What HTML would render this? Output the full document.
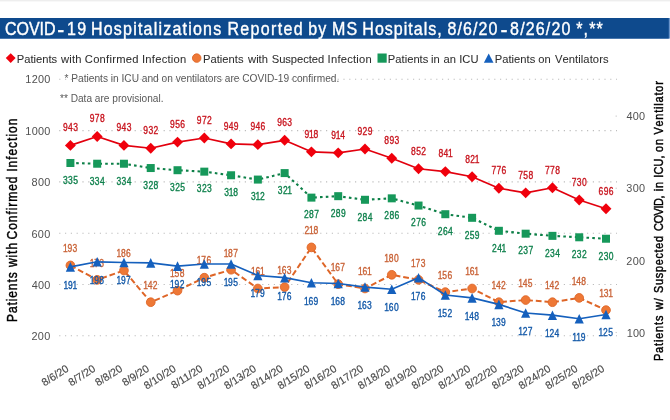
<!DOCTYPE html>
<html lang="en"><head><meta charset="utf-8">
<title>COVID-19 Hospitalizations Reported by MS Hospitals</title>
<style>
html,body{margin:0;padding:0;background:#fff;}
body{width:670px;height:420px;overflow:hidden;font-family:"Liberation Sans", sans-serif;}
svg{display:block;}
text{font-family:"Liberation Sans", sans-serif;white-space:pre;}
.ttl{fill:#fff;stroke:#fff;stroke-width:0.4px;}
.ax{fill:#505050;}
.xl{font-size:10.7px;fill:#484848;stroke:#484848;stroke-width:0.15px;text-anchor:end;}
.lg{fill:#2e2e2e;stroke:#2e2e2e;stroke-width:0.06px;}
.nt{fill:#585858;}
.dl{font-size:10.5px;stroke-width:0.35px;}
.at{fill:#000;stroke:#000;stroke-width:0.42px;}
.grid line{stroke:#bdbdbd;stroke-width:1.1;stroke-dasharray:1.2 4.6;}
</style></head><body>
<svg width="670" height="420" viewBox="0 0 670 420">
<rect x="0" y="0" width="670" height="420" fill="#fff"/>
<rect x="0" y="0" width="670" height="1" fill="#eeeeee"/>
<rect x="0" y="1" width="670" height="1" fill="#f8f8f8"/>
<rect x="0" y="18" width="670" height="20.6" fill="#6a94ca"/>
<rect x="0" y="18" width="668.8" height="20.6" fill="#0e4a8d"/>
<text class="ttl" transform="translate(0 35) scale(0.875 1)" font-size="18.3"><tspan x="5.6 18.83 33.07 45.29 50.39">COVID</tspan><tspan x="65.55" font-size="24" dy="1.5">-</tspan><tspan x="76.68 88.17" dy="-1.5">19</tspan> <tspan x="103.94 118.54 130.09 140.62 152.18 157.63 164.09 175.65 181.09 186.54 197.07 208.63 215.09 220.54 232.09 243.65">Hospitalizations</tspan> <tspan x="259.94 274.67 286.36 298.06 309.75 317.36 323.96 335.65">Reported</tspan> <tspan x="352.37 363.85">by</tspan> <tspan x="379.35 395.9">MS</tspan> <tspan x="414.11 428.48 439.8 450.1 461.43 466.64 472.87 484.2 489.41 499.71">Hospitals,</tspan> <tspan x="511.54 522.95 529.26 540.67 546.99 558.39">8/6/20</tspan><tspan x="571.89" font-size="24" dy="1.5">-</tspan><tspan x="582.97 594.46 600.85 612.34 623.83 630.22 641.71" dy="-1.5">8/26/20</tspan> <tspan x="658.51 666.94 673.34 681.77">*,**</tspan></text>
<path d="M10.7 53.2L15.6 58.1L10.7 63L5.8 58.1Z" fill="#f0000c"/>
<text class="lg" transform="translate(0 62.6) scale(0.95 1)" font-size="11.8"><tspan x="17.55 25.42 31.98 35.25 37.87 44.43 50.98 54.26">Patients</tspan> <tspan x="64.1 72.86 75.72 79.24">with</tspan> <tspan x="89.24 98.03 104.86 111.69 115.24 118.13 122.33 132.43 139.26">Confirmed</tspan> <tspan x="149.5 153.02 159.82 163.34 170.14 176.28 179.8 182.67 189.47">Infection</tspan></text>
<circle cx="196.7" cy="58.1" r="4.25" fill="#ee7836" stroke="#df6628" stroke-width="0.9"/>
<text class="lg" transform="translate(0 62.6) scale(0.95 1)" font-size="11.8"><tspan x="213.71 221.58 228.15 231.43 234.06 240.62 247.19 250.47">Patients</tspan> <tspan x="261.08 269.61 272.23 275.52">with</tspan> <tspan x="286.05 293.84 300.33 306.15 312.64 319.12 324.94 328.14 334.63">Suspected</tspan> <tspan x="344.87 348.37 355.16 358.67 365.46 371.59 375.09 377.94 384.73">Infection</tspan></text>
<rect x="377.5" y="53.5" width="9.2" height="9.2" fill="#16985a"/>
<text class="lg" transform="translate(0 62.6) scale(0.95 1)" font-size="11.8"><tspan x="408.24 416.11 422.68 425.96 428.58 435.15 441.71 445">Patients</tspan> <tspan x="453.74 456.36">in</tspan> <tspan x="466.95 473.52">an</tspan> <tspan x="483.34 486.62 495.15">ICU</tspan></text>
<path d="M488.7 53.5L493.5 62.7L483.9 62.7Z" fill="#1560bd"/>
<text class="lg" transform="translate(0 62.6) scale(0.95 1)" font-size="11.8"><tspan x="520.76 528.65 535.23 538.53 541.17 547.75 554.33 557.63">Patients</tspan> <tspan x="566.55 573.18">on</tspan> <tspan x="584.11 592.05 598.68 605.32 608.67 611.36 614.06 620.69 624.04 630.68 634.68">Ventilators</tspan></text>
<g class="grid">
<line x1="59.2" y1="79.3" x2="617" y2="79.3"/>
<line x1="59.2" y1="130.6" x2="617" y2="130.6"/>
<line x1="59.2" y1="181.9" x2="617" y2="181.9"/>
<line x1="59.2" y1="233.2" x2="617" y2="233.2"/>
<line x1="59.2" y1="284.5" x2="617" y2="284.5"/>
<line x1="59.2" y1="335.8" x2="617" y2="335.8"/>
</g>
<rect x="615.6" y="115.56" width="1.2" height="1.1" fill="#c6c6c6"/>
<rect x="615.6" y="187.69" width="1.2" height="1.1" fill="#c6c6c6"/>
<rect x="615.6" y="259.82" width="1.2" height="1.1" fill="#c6c6c6"/>
<rect x="615.6" y="331.95" width="1.2" height="1.1" fill="#c6c6c6"/>
<text class="nt" x="64.5" y="82.2" font-size="10" textLength="274.8" lengthAdjust="spacingAndGlyphs">* Patients in ICU and on ventilators are COVID-19 confirmed.</text>
<text class="nt" x="60" y="101.5" font-size="10" textLength="103.5" lengthAdjust="spacingAndGlyphs">** Data are provisional.</text>
<text class="ax" transform="translate(0 82.9) scale(0.95 1)" font-size="11.5"><tspan x="26.65 33.31 39.97 46.63">1200</tspan></text>
<text class="ax" transform="translate(0 135) scale(0.95 1)" font-size="11.5"><tspan x="26.65 33.31 39.97 46.63">1000</tspan></text>
<text class="ax" transform="translate(0 186.3) scale(0.95 1)" font-size="11.5"><tspan x="33.22 39.92 46.63">800</tspan></text>
<text class="ax" transform="translate(0 237.6) scale(0.95 1)" font-size="11.5"><tspan x="33.04 39.83 46.63">600</tspan></text>
<text class="ax" transform="translate(0 288.9) scale(0.95 1)" font-size="11.5"><tspan x="33.4 40.01 46.63">400</tspan></text>
<text class="ax" transform="translate(0 340.2) scale(0.95 1)" font-size="11.5"><tspan x="33.04 39.83 46.63">200</tspan></text>
<text class="ax" transform="translate(0 120.31) scale(0.95 1)" font-size="11.5"><tspan x="659.5 666.12 672.73">400</tspan></text>
<text class="ax" transform="translate(0 192.44) scale(0.95 1)" font-size="11.5"><tspan x="659.32 666.03 672.73">300</tspan></text>
<text class="ax" transform="translate(0 264.57) scale(0.95 1)" font-size="11.5"><tspan x="659.15 665.94 672.73">200</tspan></text>
<text class="ax" transform="translate(0 336.7) scale(0.95 1)" font-size="11.5"><tspan x="659.7 666.22 672.73">100</tspan></text>
<text class="at" transform="translate(17.35 321) rotate(-90) scale(0.86 1)" font-size="14"><tspan x="-1.09 9.26 18.06 22.97 27.09 35.89 44.7 49.6">Patients</tspan> <tspan x="62.66 73.85 78.03 83">with</tspan> <tspan x="94.81 106 114.86 123.72 128.68 132.87 138.61 151.35 160.21">Confirmed</tspan> <tspan x="173.44 178.45 187.36 192.37 201.27 209.39 214.4 218.63 227.53">Infection</tspan></text>
<text class="at" transform="translate(662.9 360.2) rotate(-90) scale(0.9 1)" font-size="12.1"><tspan x="-0.95 8.08 15.77 20.09 23.74 31.43 39.12 43.44">Patients</tspan> <tspan x="55.79 65.44">w/</tspan> <tspan x="74.73 83.58 91.09 97.91 105.42 112.92 119.75 123.89 131.39">Suspected</tspan> <tspan x="143.66 151.95 160.92 168.55 171.47 179.76">COVID,</tspan> <tspan x="187.85 191.46">in</tspan> <tspan x="202.72 206.26 215.18 224.1">ICU,</tspan> <tspan x="231.35 239">on</tspan> <tspan x="250.67 259.66 267.31 274.95 279.24 282.84 286.45 294.1 298.38 306.03">Ventilator</tspan></text>
<text class="xl" transform="translate(69.6 370.5) rotate(-32.5)">8/6/20</text>
<text class="xl" transform="translate(96.38 370.5) rotate(-32.5)">8/7/20</text>
<text class="xl" transform="translate(123.16 370.5) rotate(-32.5)">8/8/20</text>
<text class="xl" transform="translate(149.94 370.5) rotate(-32.5)">8/9/20</text>
<text class="xl" transform="translate(176.72 370.5) rotate(-32.5)">8/10/20</text>
<text class="xl" transform="translate(203.5 370.5) rotate(-32.5)">8/11/20</text>
<text class="xl" transform="translate(230.28 370.5) rotate(-32.5)">8/12/20</text>
<text class="xl" transform="translate(257.06 370.5) rotate(-32.5)">8/13/20</text>
<text class="xl" transform="translate(283.84 370.5) rotate(-32.5)">8/14/20</text>
<text class="xl" transform="translate(310.62 370.5) rotate(-32.5)">8/15/20</text>
<text class="xl" transform="translate(337.4 370.5) rotate(-32.5)">8/16/20</text>
<text class="xl" transform="translate(364.18 370.5) rotate(-32.5)">8/17/20</text>
<text class="xl" transform="translate(390.96 370.5) rotate(-32.5)">8/18/20</text>
<text class="xl" transform="translate(417.74 370.5) rotate(-32.5)">8/19/20</text>
<text class="xl" transform="translate(444.52 370.5) rotate(-32.5)">8/20/20</text>
<text class="xl" transform="translate(471.3 370.5) rotate(-32.5)">8/21/20</text>
<text class="xl" transform="translate(498.08 370.5) rotate(-32.5)">8/22/20</text>
<text class="xl" transform="translate(524.86 370.5) rotate(-32.5)">8/23/20</text>
<text class="xl" transform="translate(551.64 370.5) rotate(-32.5)">8/24/20</text>
<text class="xl" transform="translate(578.42 370.5) rotate(-32.5)">8/25/20</text>
<text class="xl" transform="translate(605.2 370.5) rotate(-32.5)">8/26/20</text>
<polyline points="70.4,145.42 97.18,136.44 123.96,145.42 150.74,148.24 177.52,142.09 204.3,137.98 231.08,143.88 257.86,144.65 284.64,140.29 311.42,151.83 338.2,152.86 364.98,149.01 391.76,158.25 418.54,168.76 445.32,171.58 472.1,176.71 498.88,188.26 525.66,192.87 552.44,187.74 579.22,200.06 606,208.78" fill="none" stroke="#e2000e" stroke-width="1.7" stroke-linejoin="round" stroke-linecap="butt"/>
<path d="M70.4 139.97L75.85 145.42L70.4 150.87L64.95 145.42Z" fill="#f0000c"/>
<path d="M97.18 130.99L102.63 136.44L97.18 141.89L91.73 136.44Z" fill="#f0000c"/>
<path d="M123.96 139.97L129.41 145.42L123.96 150.87L118.51 145.42Z" fill="#f0000c"/>
<path d="M150.74 142.79L156.19 148.24L150.74 153.69L145.29 148.24Z" fill="#f0000c"/>
<path d="M177.52 136.64L182.97 142.09L177.52 147.54L172.07 142.09Z" fill="#f0000c"/>
<path d="M204.3 132.53L209.75 137.98L204.3 143.43L198.85 137.98Z" fill="#f0000c"/>
<path d="M231.08 138.43L236.53 143.88L231.08 149.33L225.63 143.88Z" fill="#f0000c"/>
<path d="M257.86 139.2L263.31 144.65L257.86 150.1L252.41 144.65Z" fill="#f0000c"/>
<path d="M284.64 134.84L290.09 140.29L284.64 145.74L279.19 140.29Z" fill="#f0000c"/>
<path d="M311.42 146.38L316.87 151.83L311.42 157.28L305.97 151.83Z" fill="#f0000c"/>
<path d="M338.2 147.41L343.65 152.86L338.2 158.31L332.75 152.86Z" fill="#f0000c"/>
<path d="M364.98 143.56L370.43 149.01L364.98 154.46L359.53 149.01Z" fill="#f0000c"/>
<path d="M391.76 152.8L397.21 158.25L391.76 163.7L386.31 158.25Z" fill="#f0000c"/>
<path d="M418.54 163.31L423.99 168.76L418.54 174.21L413.09 168.76Z" fill="#f0000c"/>
<path d="M445.32 166.13L450.77 171.58L445.32 177.03L439.87 171.58Z" fill="#f0000c"/>
<path d="M472.1 171.26L477.55 176.71L472.1 182.16L466.65 176.71Z" fill="#f0000c"/>
<path d="M498.88 182.81L504.33 188.26L498.88 193.71L493.43 188.26Z" fill="#f0000c"/>
<path d="M525.66 187.42L531.11 192.87L525.66 198.32L520.21 192.87Z" fill="#f0000c"/>
<path d="M552.44 182.29L557.89 187.74L552.44 193.19L546.99 187.74Z" fill="#f0000c"/>
<path d="M579.22 194.61L584.67 200.06L579.22 205.5L573.77 200.06Z" fill="#f0000c"/>
<path d="M606 203.33L611.45 208.78L606 214.23L600.55 208.78Z" fill="#f0000c"/>
<polyline points="70.4,162.99 97.18,163.72 123.96,163.72 150.74,168.04 177.52,170.21 204.3,171.65 231.08,175.26 257.86,179.58 284.64,173.09 311.42,197.62 338.2,196.17 364.98,199.78 391.76,198.34 418.54,205.55 445.32,214.21 472.1,217.81 498.88,230.8 525.66,233.68 552.44,235.85 579.22,237.29 606,238.73" fill="none" stroke="#0d8048" stroke-width="2.1" stroke-linejoin="round" stroke-linecap="butt" stroke-dasharray="2.6 3.2"/>
<rect x="66.4" y="158.99" width="8" height="8" fill="#16985a"/>
<rect x="93.18" y="159.72" width="8" height="8" fill="#16985a"/>
<rect x="119.96" y="159.72" width="8" height="8" fill="#16985a"/>
<rect x="146.74" y="164.04" width="8" height="8" fill="#16985a"/>
<rect x="173.52" y="166.21" width="8" height="8" fill="#16985a"/>
<rect x="200.3" y="167.65" width="8" height="8" fill="#16985a"/>
<rect x="227.08" y="171.26" width="8" height="8" fill="#16985a"/>
<rect x="253.86" y="175.58" width="8" height="8" fill="#16985a"/>
<rect x="280.64" y="169.09" width="8" height="8" fill="#16985a"/>
<rect x="307.42" y="193.62" width="8" height="8" fill="#16985a"/>
<rect x="334.2" y="192.17" width="8" height="8" fill="#16985a"/>
<rect x="360.98" y="195.78" width="8" height="8" fill="#16985a"/>
<rect x="387.76" y="194.34" width="8" height="8" fill="#16985a"/>
<rect x="414.54" y="201.55" width="8" height="8" fill="#16985a"/>
<rect x="441.32" y="210.21" width="8" height="8" fill="#16985a"/>
<rect x="468.1" y="213.81" width="8" height="8" fill="#16985a"/>
<rect x="494.88" y="226.8" width="8" height="8" fill="#16985a"/>
<rect x="521.66" y="229.68" width="8" height="8" fill="#16985a"/>
<rect x="548.44" y="231.85" width="8" height="8" fill="#16985a"/>
<rect x="575.22" y="233.29" width="8" height="8" fill="#16985a"/>
<rect x="602" y="234.73" width="8" height="8" fill="#16985a"/>
<text class="dl" transform="translate(70.4 131.22) scale(0.81 1)" fill="#c8141e" stroke="#c8141e" x="-9.22 -2.92 3.38">943</text>
<text class="dl" transform="translate(97.18 122.24) scale(0.81 1)" fill="#c8141e" stroke="#c8141e" x="-9.22 -2.92 3.38">978</text>
<text class="dl" transform="translate(123.96 131.22) scale(0.81 1)" fill="#c8141e" stroke="#c8141e" x="-9.22 -2.92 3.38">943</text>
<text class="dl" transform="translate(150.74 134.04) scale(0.81 1)" fill="#c8141e" stroke="#c8141e" x="-9.22 -2.92 3.38">932</text>
<text class="dl" transform="translate(177.52 127.89) scale(0.81 1)" fill="#c8141e" stroke="#c8141e" x="-9.22 -2.92 3.38">956</text>
<text class="dl" transform="translate(204.3 123.78) scale(0.81 1)" fill="#c8141e" stroke="#c8141e" x="-9.22 -2.92 3.38">972</text>
<text class="dl" transform="translate(231.08 129.68) scale(0.81 1)" fill="#c8141e" stroke="#c8141e" x="-9.22 -2.92 3.38">949</text>
<text class="dl" transform="translate(257.86 130.45) scale(0.81 1)" fill="#c8141e" stroke="#c8141e" x="-9.22 -2.92 3.38">946</text>
<text class="dl" transform="translate(284.64 126.09) scale(0.81 1)" fill="#c8141e" stroke="#c8141e" x="-9.22 -2.92 3.38">963</text>
<text class="dl" transform="translate(311.42 137.63) scale(0.81 1)" fill="#c8141e" stroke="#c8141e" x="-8.48 -2.92 2.64">918</text>
<text class="dl" transform="translate(338.2 138.66) scale(0.81 1)" fill="#c8141e" stroke="#c8141e" x="-8.48 -2.92 2.64">914</text>
<text class="dl" transform="translate(364.98 134.81) scale(0.81 1)" fill="#c8141e" stroke="#c8141e" x="-9.22 -2.92 3.38">929</text>
<text class="dl" transform="translate(391.76 144.05) scale(0.81 1)" fill="#c8141e" stroke="#c8141e" x="-9.22 -2.92 3.38">893</text>
<text class="dl" transform="translate(418.54 154.56) scale(0.81 1)" fill="#c8141e" stroke="#c8141e" x="-9.22 -2.92 3.38">852</text>
<text class="dl" transform="translate(445.32 157.38) scale(0.81 1)" fill="#c8141e" stroke="#c8141e" x="-8.48 -2.18 3.38">841</text>
<text class="dl" transform="translate(472.1 162.51) scale(0.81 1)" fill="#c8141e" stroke="#c8141e" x="-8.48 -2.18 3.38">821</text>
<text class="dl" transform="translate(498.88 174.06) scale(0.81 1)" fill="#c8141e" stroke="#c8141e" x="-9.22 -2.92 3.38">776</text>
<text class="dl" transform="translate(525.66 178.67) scale(0.81 1)" fill="#c8141e" stroke="#c8141e" x="-9.22 -2.92 3.38">758</text>
<text class="dl" transform="translate(552.44 173.54) scale(0.81 1)" fill="#c8141e" stroke="#c8141e" x="-9.22 -2.92 3.38">778</text>
<text class="dl" transform="translate(579.22 185.86) scale(0.81 1)" fill="#c8141e" stroke="#c8141e" x="-9.22 -2.92 3.38">730</text>
<text class="dl" transform="translate(606 194.58) scale(0.81 1)" fill="#c8141e" stroke="#c8141e" x="-9.22 -2.92 3.38">696</text>
<text class="dl" transform="translate(70.4 183.79) scale(0.81 1)" fill="#0e804c" stroke="#0e804c" x="-9.22 -2.92 3.38">335</text>
<text class="dl" transform="translate(97.18 184.52) scale(0.81 1)" fill="#0e804c" stroke="#0e804c" x="-9.22 -2.92 3.38">334</text>
<text class="dl" transform="translate(123.96 184.52) scale(0.81 1)" fill="#0e804c" stroke="#0e804c" x="-9.22 -2.92 3.38">334</text>
<text class="dl" transform="translate(150.74 188.84) scale(0.81 1)" fill="#0e804c" stroke="#0e804c" x="-9.22 -2.92 3.38">328</text>
<text class="dl" transform="translate(177.52 191.01) scale(0.81 1)" fill="#0e804c" stroke="#0e804c" x="-9.22 -2.92 3.38">325</text>
<text class="dl" transform="translate(204.3 192.45) scale(0.81 1)" fill="#0e804c" stroke="#0e804c" x="-9.22 -2.92 3.38">323</text>
<text class="dl" transform="translate(231.08 196.06) scale(0.81 1)" fill="#0e804c" stroke="#0e804c" x="-8.48 -2.92 2.64">318</text>
<text class="dl" transform="translate(257.86 200.38) scale(0.81 1)" fill="#0e804c" stroke="#0e804c" x="-8.48 -2.92 2.64">312</text>
<text class="dl" transform="translate(284.64 193.89) scale(0.81 1)" fill="#0e804c" stroke="#0e804c" x="-8.48 -2.18 3.38">321</text>
<text class="dl" transform="translate(311.42 218.42) scale(0.81 1)" fill="#0e804c" stroke="#0e804c" x="-9.22 -2.92 3.38">287</text>
<text class="dl" transform="translate(338.2 216.97) scale(0.81 1)" fill="#0e804c" stroke="#0e804c" x="-9.22 -2.92 3.38">289</text>
<text class="dl" transform="translate(364.98 220.58) scale(0.81 1)" fill="#0e804c" stroke="#0e804c" x="-9.22 -2.92 3.38">284</text>
<text class="dl" transform="translate(391.76 219.14) scale(0.81 1)" fill="#0e804c" stroke="#0e804c" x="-9.22 -2.92 3.38">286</text>
<text class="dl" transform="translate(418.54 226.35) scale(0.81 1)" fill="#0e804c" stroke="#0e804c" x="-9.22 -2.92 3.38">276</text>
<text class="dl" transform="translate(445.32 235.01) scale(0.81 1)" fill="#0e804c" stroke="#0e804c" x="-9.22 -2.92 3.38">264</text>
<text class="dl" transform="translate(472.1 238.61) scale(0.81 1)" fill="#0e804c" stroke="#0e804c" x="-9.22 -2.92 3.38">259</text>
<text class="dl" transform="translate(498.88 251.6) scale(0.81 1)" fill="#0e804c" stroke="#0e804c" x="-8.48 -2.18 3.38">241</text>
<text class="dl" transform="translate(525.66 254.48) scale(0.81 1)" fill="#0e804c" stroke="#0e804c" x="-9.22 -2.92 3.38">237</text>
<text class="dl" transform="translate(552.44 256.65) scale(0.81 1)" fill="#0e804c" stroke="#0e804c" x="-9.22 -2.92 3.38">234</text>
<text class="dl" transform="translate(579.22 258.09) scale(0.81 1)" fill="#0e804c" stroke="#0e804c" x="-9.22 -2.92 3.38">232</text>
<text class="dl" transform="translate(606 259.53) scale(0.81 1)" fill="#0e804c" stroke="#0e804c" x="-9.22 -2.92 3.38">230</text>
<polyline points="70.4,265.42 97.18,279.85 123.96,270.47 150.74,302.21 177.52,290.66 204.3,277.68 231.08,269.75 257.86,288.5 284.64,287.06 311.42,247.39 338.2,284.17 364.98,288.5 391.76,274.8 418.54,279.85 445.32,292.11 472.1,288.5 498.88,302.21 525.66,300.04 552.44,302.21 579.22,297.88 606,310.14" fill="none" stroke="#de6527" stroke-width="2.0" stroke-linejoin="round" stroke-linecap="butt" stroke-dasharray="5.8 2.9"/>
<circle cx="70.4" cy="265.42" r="4.35" fill="#ee7836" stroke="#df6628" stroke-width="0.9"/>
<circle cx="97.18" cy="279.85" r="4.35" fill="#ee7836" stroke="#df6628" stroke-width="0.9"/>
<circle cx="123.96" cy="270.47" r="4.35" fill="#ee7836" stroke="#df6628" stroke-width="0.9"/>
<circle cx="150.74" cy="302.21" r="4.35" fill="#ee7836" stroke="#df6628" stroke-width="0.9"/>
<circle cx="177.52" cy="290.66" r="4.35" fill="#ee7836" stroke="#df6628" stroke-width="0.9"/>
<circle cx="204.3" cy="277.68" r="4.35" fill="#ee7836" stroke="#df6628" stroke-width="0.9"/>
<circle cx="231.08" cy="269.75" r="4.35" fill="#ee7836" stroke="#df6628" stroke-width="0.9"/>
<circle cx="257.86" cy="288.5" r="4.35" fill="#ee7836" stroke="#df6628" stroke-width="0.9"/>
<circle cx="284.64" cy="287.06" r="4.35" fill="#ee7836" stroke="#df6628" stroke-width="0.9"/>
<circle cx="311.42" cy="247.39" r="4.35" fill="#ee7836" stroke="#df6628" stroke-width="0.9"/>
<circle cx="338.2" cy="284.17" r="4.35" fill="#ee7836" stroke="#df6628" stroke-width="0.9"/>
<circle cx="364.98" cy="288.5" r="4.35" fill="#ee7836" stroke="#df6628" stroke-width="0.9"/>
<circle cx="391.76" cy="274.8" r="4.35" fill="#ee7836" stroke="#df6628" stroke-width="0.9"/>
<circle cx="418.54" cy="279.85" r="4.35" fill="#ee7836" stroke="#df6628" stroke-width="0.9"/>
<circle cx="445.32" cy="292.11" r="4.35" fill="#ee7836" stroke="#df6628" stroke-width="0.9"/>
<circle cx="472.1" cy="288.5" r="4.35" fill="#ee7836" stroke="#df6628" stroke-width="0.9"/>
<circle cx="498.88" cy="302.21" r="4.35" fill="#ee7836" stroke="#df6628" stroke-width="0.9"/>
<circle cx="525.66" cy="300.04" r="4.35" fill="#ee7836" stroke="#df6628" stroke-width="0.9"/>
<circle cx="552.44" cy="302.21" r="4.35" fill="#ee7836" stroke="#df6628" stroke-width="0.9"/>
<circle cx="579.22" cy="297.88" r="4.35" fill="#ee7836" stroke="#df6628" stroke-width="0.9"/>
<circle cx="606" cy="310.14" r="4.35" fill="#ee7836" stroke="#df6628" stroke-width="0.9"/>
<text class="dl" transform="translate(70.4 252.22) scale(0.81 1)" fill="#c96236" stroke="#c96236" x="-9.22 -3.66 2.64">193</text>
<text class="dl" transform="translate(97.18 266.65) scale(0.81 1)" fill="#c96236" stroke="#c96236" x="-9.22 -3.66 2.64">173</text>
<text class="dl" transform="translate(123.96 257.27) scale(0.81 1)" fill="#c96236" stroke="#c96236" x="-9.22 -3.66 2.64">186</text>
<text class="dl" transform="translate(150.74 289.01) scale(0.81 1)" fill="#c96236" stroke="#c96236" x="-9.22 -3.66 2.64">142</text>
<text class="dl" transform="translate(177.52 277.46) scale(0.81 1)" fill="#c96236" stroke="#c96236" x="-9.22 -3.66 2.64">158</text>
<text class="dl" transform="translate(204.3 264.48) scale(0.81 1)" fill="#c96236" stroke="#c96236" x="-9.22 -3.66 2.64">176</text>
<text class="dl" transform="translate(231.08 256.55) scale(0.81 1)" fill="#c96236" stroke="#c96236" x="-9.22 -3.66 2.64">187</text>
<text class="dl" transform="translate(257.86 275.3) scale(0.81 1)" fill="#c96236" stroke="#c96236" x="-8.48 -2.92 2.64">161</text>
<text class="dl" transform="translate(284.64 273.86) scale(0.81 1)" fill="#c96236" stroke="#c96236" x="-9.22 -3.66 2.64">163</text>
<text class="dl" transform="translate(311.42 234.19) scale(0.81 1)" fill="#c96236" stroke="#c96236" x="-8.48 -2.92 2.64">218</text>
<text class="dl" transform="translate(338.2 270.97) scale(0.81 1)" fill="#c96236" stroke="#c96236" x="-9.22 -3.66 2.64">167</text>
<text class="dl" transform="translate(364.98 275.3) scale(0.81 1)" fill="#c96236" stroke="#c96236" x="-8.48 -2.92 2.64">161</text>
<text class="dl" transform="translate(391.76 261.6) scale(0.81 1)" fill="#c96236" stroke="#c96236" x="-9.22 -3.66 2.64">180</text>
<text class="dl" transform="translate(418.54 266.65) scale(0.81 1)" fill="#c96236" stroke="#c96236" x="-9.22 -3.66 2.64">173</text>
<text class="dl" transform="translate(445.32 278.91) scale(0.81 1)" fill="#c96236" stroke="#c96236" x="-9.22 -3.66 2.64">156</text>
<text class="dl" transform="translate(472.1 275.3) scale(0.81 1)" fill="#c96236" stroke="#c96236" x="-8.48 -2.92 2.64">161</text>
<text class="dl" transform="translate(498.88 289.01) scale(0.81 1)" fill="#c96236" stroke="#c96236" x="-9.22 -3.66 2.64">142</text>
<text class="dl" transform="translate(525.66 286.84) scale(0.81 1)" fill="#c96236" stroke="#c96236" x="-9.22 -3.66 2.64">145</text>
<text class="dl" transform="translate(552.44 289.01) scale(0.81 1)" fill="#c96236" stroke="#c96236" x="-9.22 -3.66 2.64">142</text>
<text class="dl" transform="translate(579.22 284.68) scale(0.81 1)" fill="#c96236" stroke="#c96236" x="-9.22 -3.66 2.64">148</text>
<text class="dl" transform="translate(606 296.94) scale(0.81 1)" fill="#c96236" stroke="#c96236" x="-8.48 -2.92 2.64">131</text>
<polyline points="70.4,266.86 97.18,261.81 123.96,262.53 150.74,262.89 177.52,266.14 204.3,263.98 231.08,263.98 257.86,275.52 284.64,277.68 311.42,282.73 338.2,283.45 364.98,287.06 391.76,289.22 418.54,277.68 445.32,294.99 472.1,297.88 498.88,304.37 525.66,313.02 552.44,315.19 579.22,318.8 606,314.47" fill="none" stroke="#1560bd" stroke-width="1.65" stroke-linejoin="round" stroke-linecap="butt"/>
<path d="M70.4 262.06L75 271.66L65.8 271.66Z" fill="#1560bd"/>
<path d="M97.18 257.01L101.78 266.61L92.58 266.61Z" fill="#1560bd"/>
<path d="M123.96 257.73L128.56 267.33L119.36 267.33Z" fill="#1560bd"/>
<path d="M150.74 258.09L155.34 267.69L146.14 267.69Z" fill="#1560bd"/>
<path d="M177.52 261.34L182.12 270.94L172.92 270.94Z" fill="#1560bd"/>
<path d="M204.3 259.18L208.9 268.78L199.7 268.78Z" fill="#1560bd"/>
<path d="M231.08 259.18L235.68 268.78L226.48 268.78Z" fill="#1560bd"/>
<path d="M257.86 270.72L262.46 280.32L253.26 280.32Z" fill="#1560bd"/>
<path d="M284.64 272.88L289.24 282.48L280.04 282.48Z" fill="#1560bd"/>
<path d="M311.42 277.93L316.02 287.53L306.82 287.53Z" fill="#1560bd"/>
<path d="M338.2 278.65L342.8 288.25L333.6 288.25Z" fill="#1560bd"/>
<path d="M364.98 282.26L369.58 291.86L360.38 291.86Z" fill="#1560bd"/>
<path d="M391.76 284.42L396.36 294.02L387.16 294.02Z" fill="#1560bd"/>
<path d="M418.54 272.88L423.14 282.48L413.94 282.48Z" fill="#1560bd"/>
<path d="M445.32 290.19L449.92 299.79L440.72 299.79Z" fill="#1560bd"/>
<path d="M472.1 293.08L476.7 302.68L467.5 302.68Z" fill="#1560bd"/>
<path d="M498.88 299.57L503.48 309.17L494.28 309.17Z" fill="#1560bd"/>
<path d="M525.66 308.22L530.26 317.82L521.06 317.82Z" fill="#1560bd"/>
<path d="M552.44 310.39L557.04 319.99L547.84 319.99Z" fill="#1560bd"/>
<path d="M579.22 314L583.82 323.6L574.62 323.6Z" fill="#1560bd"/>
<path d="M606 309.67L610.6 319.27L601.4 319.27Z" fill="#1560bd"/>
<text class="dl" transform="translate(70.4 288.76) scale(0.81 1)" fill="#1258a8" stroke="#1258a8" x="-8.48 -2.92 2.64">191</text>
<text class="dl" transform="translate(97.18 283.71) scale(0.81 1)" fill="#1258a8" stroke="#1258a8" x="-9.22 -3.66 2.64">198</text>
<text class="dl" transform="translate(123.96 284.43) scale(0.81 1)" fill="#1258a8" stroke="#1258a8" x="-9.22 -3.66 2.64">197</text>
<text class="dl" transform="translate(177.52 288.04) scale(0.81 1)" fill="#1258a8" stroke="#1258a8" x="-9.22 -3.66 2.64">192</text>
<text class="dl" transform="translate(204.3 285.88) scale(0.81 1)" fill="#1258a8" stroke="#1258a8" x="-9.22 -3.66 2.64">195</text>
<text class="dl" transform="translate(231.08 285.88) scale(0.81 1)" fill="#1258a8" stroke="#1258a8" x="-9.22 -3.66 2.64">195</text>
<text class="dl" transform="translate(257.86 297.42) scale(0.81 1)" fill="#1258a8" stroke="#1258a8" x="-9.22 -3.66 2.64">179</text>
<text class="dl" transform="translate(284.64 299.58) scale(0.81 1)" fill="#1258a8" stroke="#1258a8" x="-9.22 -3.66 2.64">176</text>
<text class="dl" transform="translate(311.42 304.63) scale(0.81 1)" fill="#1258a8" stroke="#1258a8" x="-9.22 -3.66 2.64">169</text>
<text class="dl" transform="translate(338.2 305.35) scale(0.81 1)" fill="#1258a8" stroke="#1258a8" x="-9.22 -3.66 2.64">168</text>
<text class="dl" transform="translate(364.98 308.96) scale(0.81 1)" fill="#1258a8" stroke="#1258a8" x="-9.22 -3.66 2.64">163</text>
<text class="dl" transform="translate(391.76 311.12) scale(0.81 1)" fill="#1258a8" stroke="#1258a8" x="-9.22 -3.66 2.64">160</text>
<text class="dl" transform="translate(418.54 299.58) scale(0.81 1)" fill="#1258a8" stroke="#1258a8" x="-9.22 -3.66 2.64">176</text>
<text class="dl" transform="translate(445.32 316.89) scale(0.81 1)" fill="#1258a8" stroke="#1258a8" x="-9.22 -3.66 2.64">152</text>
<text class="dl" transform="translate(472.1 319.78) scale(0.81 1)" fill="#1258a8" stroke="#1258a8" x="-9.22 -3.66 2.64">148</text>
<text class="dl" transform="translate(498.88 326.27) scale(0.81 1)" fill="#1258a8" stroke="#1258a8" x="-9.22 -3.66 2.64">139</text>
<text class="dl" transform="translate(525.66 334.92) scale(0.81 1)" fill="#1258a8" stroke="#1258a8" x="-9.22 -3.66 2.64">127</text>
<text class="dl" transform="translate(552.44 337.09) scale(0.81 1)" fill="#1258a8" stroke="#1258a8" x="-9.22 -3.66 2.64">124</text>
<text class="dl" transform="translate(579.22 340.7) scale(0.81 1)" fill="#1258a8" stroke="#1258a8" x="-8.48 -3.66 1.89">119</text>
<text class="dl" transform="translate(606 336.37) scale(0.81 1)" fill="#1258a8" stroke="#1258a8" x="-9.22 -3.66 2.64">125</text>
</svg>
</body></html>
